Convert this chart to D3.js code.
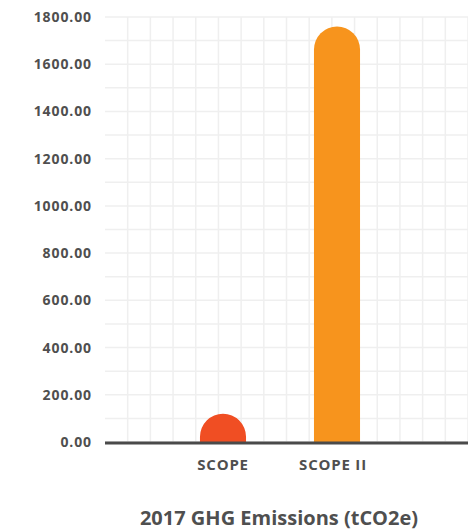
<!DOCTYPE html>
<html>
<head>
<meta charset="utf-8">
<script src="https://cdn.jsdelivr.net/npm/d3@7"></script>
<style>
  body { margin: 0; background: #fff; }
  text { font-family: "Open Sans", "Lato", sans-serif; font-weight: bold; }
</style>
</head>
<body>
<svg id="chart" width="468" height="531"></svg>
<script>
// chart data
const categories = ["SCOPE", "SCOPE II"];
const emissions = [120, 1760];
const barColors = ["#F04E23", "#F7941D"];
const yTicks = [0, 200, 400, 600, 800, 1000, 1200, 1400, 1600, 1800];
const chartTitle = "2017 GHG Emissions (tCO2e)";

const width = 468, height = 531;
const marginLeft = 105, marginRight = 0, marginTop = 17, marginBottom = 89;
const textColor = "#4f4f4f";

const svg = d3.select("#chart");

const y = d3.scaleLinear([0, 1800], [height - marginBottom, marginTop]);
const x = d3.scaleBand(categories, [166, 394]).paddingInner(0.596).paddingOuter(0.298);
const gridX = d3.scaleLinear([0, 16], [marginLeft, width - marginRight]);

// grid
const grid = svg.append("g").attr("stroke", "#efefef").attr("stroke-width", 1.5);
grid.selectAll(".h")
  .data(d3.range(0, 1801, 100))
  .join("line")
  .attr("x1", marginLeft).attr("x2", width - marginRight)
  .attr("y1", d => y(d)).attr("y2", d => y(d));
grid.selectAll(".v")
  .data(d3.range(1, 17))
  .join("line")
  .attr("x1", d => gridX(d)).attr("x2", d => gridX(d))
  .attr("y1", y(1800)).attr("y2", y(0));

// y axis labels
const yAxis = d3.axisLeft(y).tickValues(yTicks).tickFormat(d3.format(".2f")).tickSize(0).tickPadding(13);
svg.append("g")
  .attr("transform", `translate(${marginLeft},0)`)
  .call(yAxis)
  .call(g => g.select(".domain").remove())
  .call(g => g.selectAll("text")
    .attr("fill", textColor)
    .style("font-size", "14px")
    .style("letter-spacing", "0.9px")
    .style("font-family", "'Open Sans', sans-serif")
    .style("font-weight", "bold"));

// bars with rounded tops
const bw = x.bandwidth();
const r = bw / 2;
svg.append("g")
  .selectAll("path")
  .data(emissions)
  .join("path")
  .attr("fill", (d, i) => barColors[i])
  .attr("d", (d, i) => {
    const x0 = x(categories[i]), x1 = x0 + bw;
    const yTop = y(d), yBase = y(0);
    const rr = Math.min(r, yBase - yTop);
    return `M${x0},${yBase} L${x0},${yTop + rr} A${r},${rr} 0 0 1 ${x1},${yTop + rr} L${x1},${yBase} Z`;
  });

// baseline
svg.append("line")
  .attr("x1", marginLeft).attr("x2", width - marginRight)
  .attr("y1", y(0) + 1).attr("y2", y(0) + 1)
  .attr("stroke", "#4a4a4a").attr("stroke-width", 3);

// x axis labels
const xAxis = d3.axisBottom(x).tickSize(0).tickPadding(17);
svg.append("g")
  .attr("transform", `translate(0,${y(0)})`)
  .call(xAxis)
  .call(g => g.select(".domain").remove())
  .call(g => g.selectAll("text")
    .attr("fill", textColor)
    .attr("dx", (d, i) => i === 1 ? -4 : 0)
    .style("font-size", "15px")
    .style("letter-spacing", "0.8px")
    .style("font-family", "'Open Sans', sans-serif")
    .style("font-weight", "bold"));

// title
svg.append("text")
  .attr("x", 279).attr("y", 525)
  .attr("text-anchor", "middle")
  .attr("fill", textColor)
  .style("font-size", "20px")
  .text(chartTitle);
</script>
</body>
</html>
